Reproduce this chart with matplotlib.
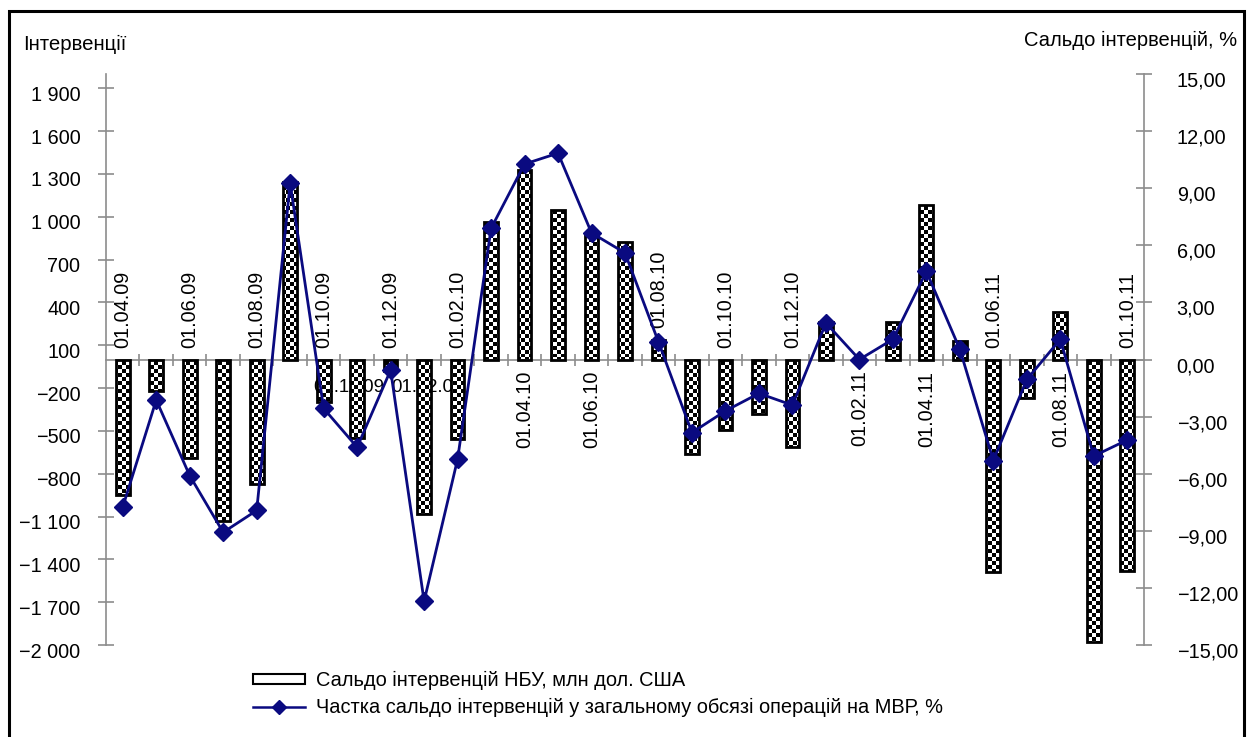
import numpy as np
import matplotlib
matplotlib.use("Agg")
import matplotlib.pyplot as plt
import matplotlib.transforms as mtransforms
from matplotlib import font_manager
from matplotlib.path import Path
from matplotlib.patches import Rectangle
from matplotlib.lines import Line2D

# Data: monthly balance of NBU interventions, Apr 2009 - Oct 2011
months = ["01.04.09", "01.05.09", "01.06.09", "01.07.09", "01.08.09", "01.09.09",
          "01.10.09", "01.11.09", "01.12.09", "01.01.10", "01.02.10", "01.03.10",
          "01.04.10", "01.05.10", "01.06.10", "01.07.10", "01.08.10", "01.09.10",
          "01.10.10", "01.11.10", "01.12.10", "01.01.11", "01.02.11", "01.03.11",
          "01.04.11", "01.05.11", "01.06.11", "01.07.11", "01.08.11", "01.09.11",
          "01.10.11"]
balance_musd = [-950, -220, -690, -1130, -870, 1240, -300, -550, -80, -1080,
                -560, 960, 1330, 1050, 870, 820, 135, -665, -495, -380,
                -610, 260, 0, 260, 1080, 130, -1490, -270, 330, -1980, -1480]
share_pct = [-7.75, -2.13, -6.10, -9.08, -7.93, 9.25, -2.57, -4.61, -0.56, -12.70,
             -5.24, 6.89, 10.27, 10.84, 6.65, 5.60, 0.92, -3.84, -2.70, -1.78,
             -2.40, 1.92, 0.00, 1.06, 4.63, 0.54, -5.31, -1.05, 1.06, -5.07, -4.23]
# every second month is labelled; which side of the zero line the label sits on
label_side = {"01.04.09": "above", "01.06.09": "above", "01.08.09": "above",
              "01.10.09": "above", "01.12.09": "above", "01.02.10": "above",
              "01.04.10": "below", "01.06.10": "below", "01.08.10": "bar",
              "01.10.10": "above", "01.12.10": "above", "01.02.11": "below",
              "01.04.11": "below", "01.06.11": "above", "01.08.11": "below",
              "01.10.11": "above"}
left_ticks = np.arange(-2000, 2000, 300)
right_ticks = np.arange(-15, 16, 3)

names = {f.name for f in font_manager.fontManager.ttflist}
if "Liberation Sans Narrow" in names:
    family, k = "Liberation Sans Narrow", 1.0
else:
    family, k = "Liberation Sans", 0.84
plt.rcParams["font.family"] = [family, "DejaVu Sans"]

NAVY = "#0a0a80"
GRAY = "#8c8c8c"

fig = plt.figure(figsize=(12.47, 7.37), dpi=100)
ax = fig.add_axes([106 / 1247, 92 / 737, 1038 / 1247, 571 / 737])

x = np.arange(len(months))
bars = ax.bar(x, balance_musd, width=0.41, facecolor="none", edgecolor="black",
              linewidth=2.0, zorder=3)

# checkerboard fill clipped to the bars
nx, ny = 260, 143
board = np.indices((ny, nx)).sum(axis=0) % 2
im = ax.imshow(board, cmap="gray", interpolation="nearest", aspect="auto",
               extent=(-0.5, len(months) - 0.5, -2000, 2000), zorder=2)
paths = [b.get_patch_transform().transform_path(b.get_path()) for b in bars]
im.set_clip_path(Path.make_compound_path(*paths), ax.transData)

ax.set_xlim(-0.5, len(months) - 0.5)
ax.set_ylim(-2000, 2000)
ax.set_yticks(left_ticks)
ax.set_yticklabels([f"{v:,}".replace(",", " ").replace("-", "\u2212") for v in left_ticks])
ax.set_xticks(np.arange(0.5, len(months) - 0.5, 1))
ax.set_xticklabels([])
for s in ["top", "right"]:
    ax.spines[s].set_visible(False)
ax.spines["bottom"].set_position(("data", 0))
for s in ["bottom", "left"]:
    ax.spines[s].set_color(GRAY)
    ax.spines[s].set_linewidth(1.2)
ax.tick_params(axis="x", direction="inout", length=9, color=GRAY, width=1.2)
ax.tick_params(axis="y", direction="inout", length=11, color=GRAY, width=1.2,
               labelsize=17 * k, pad=13)

# rotated month labels along the zero line
for i, m in enumerate(months):
    side = label_side.get(m)
    if side is None:
        continue
    if side == "below":
        ax.annotate(m, (i, 0), xytext=(0, -8), textcoords="offset points",
                    rotation=90, ha="center", va="top", fontsize=17 * k, zorder=1)
    else:
        y0 = balance_musd[i] if side == "bar" else 0
        ax.annotate(m, (i, y0), xytext=(0, 8.6), textcoords="offset points",
                    rotation=90, ha="center", va="bottom", fontsize=17 * k, zorder=1)
# stray horizontal labels partly hidden behind the bars
ax.text(5.68, -194, "01.11.09", ha="left", va="center", fontsize=16 * k, zorder=1)
ax.text(8.02, -194, "01.12.09", ha="left", va="center", fontsize=16 * k, zorder=1)

ax2 = ax.twinx()
ax2.plot(x, share_pct, color=NAVY, linewidth=2.0, marker="D", markersize=9,
         markerfacecolor=NAVY, markeredgecolor=NAVY, zorder=5)
ax2.set_ylim(-15, 15)
ax2.set_yticks(right_ticks)
ax2.set_yticklabels([f"{v:.2f}".replace(".", ",").replace("-", "\u2212") for v in right_ticks])
for s in ["top", "left", "bottom"]:
    ax2.spines[s].set_visible(False)
ax2.spines["right"].set_color(GRAY)
ax2.spines["right"].set_linewidth(1.2)
ax2.tick_params(axis="y", direction="inout", length=11, color=GRAY, width=1.2,
                labelsize=17 * k, pad=18)
for t in ax2.get_yticklabels():
    t.set_horizontalalignment("left")

fig.text(23 / 1247, 1 - 44 / 737, "Інтервенції", fontsize=17.5 * k, va="center", ha="left")
fig.text(1237 / 1247, 1 - 40 / 737, "Сальдо інтервенцій, %", fontsize=17.3 * k,
         va="center", ha="right")

handles = [Rectangle((0, 0), 1, 1, facecolor="white", edgecolor="black", linewidth=1.5),
           Line2D([], [], color=NAVY, linewidth=1.8, marker="D", markersize=7)]
labels = ["Сальдо інтервенцій НБУ, млн дол. США",
          "Частка сальдо інтервенцій у загальному обсязі операцій на МВР, %"]
fig.legend(handles, labels, loc="center left", bbox_to_anchor=(253 / 1247, 1 - 694 / 737),
           frameon=False, fontsize=17.2 * k, handlelength=2.6, handleheight=0.38,
           handletextpad=0.55, labelspacing=0.35, borderpad=0, borderaxespad=0)

# outer frame of the picture
fig.patches.append(Rectangle((9 / 1247, -0.05), (1244 - 9) / 1247, 0.05 + 1 - 11 / 737,
                             transform=fig.transFigure, fill=False, edgecolor="black",
                             linewidth=2.2))

# Excel draws tick labels a few pixels below their ticks
fig.canvas.draw()
shift = mtransforms.ScaledTranslation(0, -0.05, fig.dpi_scale_trans)
for a in (ax, ax2):
    for tick in a.yaxis.get_major_ticks():
        tick.label1.set_transform(tick.label1.get_transform() + shift)
        tick.label2.set_transform(tick.label2.get_transform() + shift)

fig.savefig("out.png", dpi=100)
